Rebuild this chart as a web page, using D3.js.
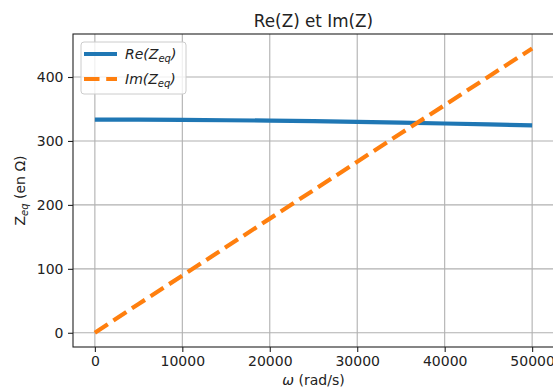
<!DOCTYPE html>
<html>
<head>
<meta charset="utf-8">
<script src="https://cdn.jsdelivr.net/npm/d3@7"></script>
<style>
  body { margin: 0; background: #fff; }
  text { font-family: "DejaVu Sans", sans-serif; fill: #222; }
</style>
</head>
<body>
<svg id="chart" width="553" height="390"></svg>
<script>
const WIDTH = 553
const HEIGHT = 390

// omega (rad/s)
const omega = [0, 5000, 10000, 15000, 20000, 25000, 30000, 35000, 40000, 45000, 50000]
// Re(Zeq), Im(Zeq) in ohm
const reZ = [333.3, 333.2, 332.9, 332.4, 331.8, 330.9, 329.8, 328.6, 327.3, 325.8, 324.2]
const imZ = [0, 45, 89.5, 134, 178.5, 223, 267.5, 312, 356, 400.5, 444.5]
const xTicks = [0, 10000, 20000, 30000, 40000, 50000]
const yTicks = [0, 100, 200, 300, 400]

const padding = { left: 73, right: 554, top: 34, bottom: 347 }
const svg = d3.select('#chart')
const FS = 14

const xAxis = d3.scaleLinear()
    .domain([-2500, 52500])
    .range([padding.left, padding.right])

const yAxis = d3.scaleLinear()
    .domain([-22.25, 467.25])
    .range([padding.bottom, padding.top])

// grid
svg.append('g')
    .selectAll('line')
    .data(xTicks)
    .join('line')
    .attr('x1', d => xAxis(d)).attr('x2', d => xAxis(d))
    .attr('y1', padding.top).attr('y2', padding.bottom)
    .attr('stroke', '#b0b0b0').attr('stroke-width', 1.1)

svg.append('g')
    .selectAll('line')
    .data(yTicks)
    .join('line')
    .attr('x1', padding.left).attr('x2', padding.right)
    .attr('y1', d => yAxis(d)).attr('y2', d => yAxis(d))
    .attr('stroke', '#b0b0b0').attr('stroke-width', 1.1)

// lines
const line = (vals) => d3.line()
    .x((d, i) => xAxis(omega[i]))
    .y(d => yAxis(d))(vals)

svg.append('path')
    .attr('d', line(reZ))
    .attr('fill', 'none')
    .attr('stroke', '#1f77b4')
    .attr('stroke-width', 4.2)

svg.append('path')
    .attr('d', line(imZ))
    .attr('fill', 'none')
    .attr('stroke', '#ff7f0e')
    .attr('stroke-width', 4.2)
    .attr('stroke-dasharray', '15.5,6.7')

// axes
const gx = svg.append('g')
    .attr('transform', `translate(0, ${padding.bottom})`)
    .call(d3.axisBottom(xAxis).tickValues(xTicks).tickSize(5).tickPadding(4).tickFormat(d3.format('d')))
const gy = svg.append('g')
    .attr('transform', `translate(${padding.left}, 0)`)
    .call(d3.axisLeft(yAxis).tickValues(yTicks).tickSize(5).tickPadding(4.5).tickFormat(d3.format('d')))

for (const g of [gx, gy]) {
    g.select('.domain').remove()
    g.selectAll('.tick line').attr('stroke', '#222').attr('stroke-width', 1.1)
    g.selectAll('.tick text').attr('font-size', FS).attr('font-family', 'DejaVu Sans').attr('fill', '#222')
}

// frame
svg.append('rect')
    .attr('x', padding.left).attr('y', padding.top)
    .attr('width', padding.right - padding.left)
    .attr('height', padding.bottom - padding.top)
    .attr('fill', 'none').attr('stroke', '#222').attr('stroke-width', 1.1)

// title
svg.append('text')
    .text('Re(Z) et Im(Z)')
    .attr('x', (padding.left + padding.right) / 2)
    .attr('y', 27)
    .attr('text-anchor', 'middle')
    .attr('font-size', 16.8)

// x label
const xl = svg.append('text')
    .attr('x', (padding.left + padding.right) / 2)
    .attr('y', 385)
    .attr('text-anchor', 'middle')
    .attr('font-size', FS)
xl.append('tspan').text('ω').attr('font-style', 'italic')
xl.append('tspan').text(' (rad/s)')

// y label
const yl = svg.append('text')
    .attr('transform', `translate(25, ${(padding.top + padding.bottom) / 2}) rotate(-90)`)
    .attr('text-anchor', 'middle')
    .attr('font-size', FS)
yl.append('tspan').text('Z')
yl.append('tspan').text('eq').attr('font-size', 10).attr('font-style', 'italic').attr('dy', 3)
yl.append('tspan').text(' (en Ω)').attr('dy', -3)

// legend
const legend = svg.append('g').attr('transform', 'translate(81, 42)')
legend.append('rect')
    .attr('width', 105).attr('height', 52).attr('rx', 3)
    .attr('fill', '#fff').attr('fill-opacity', 0.8)
    .attr('stroke', '#ccc').attr('stroke-width', 1)

const entries = [
    { name: 'Re', color: '#1f77b4', dash: null },
    { name: 'Im', color: '#ff7f0e', dash: '15.5,6.7' }
]
entries.forEach((e, i) => {
    const y = 12 + i * 25
    legend.append('line')
        .attr('x1', 3).attr('x2', 36).attr('y1', y).attr('y2', y)
        .attr('stroke', e.color).attr('stroke-width', 4.2)
        .attr('stroke-dasharray', e.dash)
    const t = legend.append('text')
        .attr('x', 44).attr('y', y + 5)
        .attr('font-size', FS).attr('font-style', 'italic')
    t.append('tspan').text(e.name + '(Z')
    t.append('tspan').text('eq').attr('font-size', 10).attr('dy', 3)
    t.append('tspan').text(')').attr('dy', -3)
})
</script>
</body>
</html>
